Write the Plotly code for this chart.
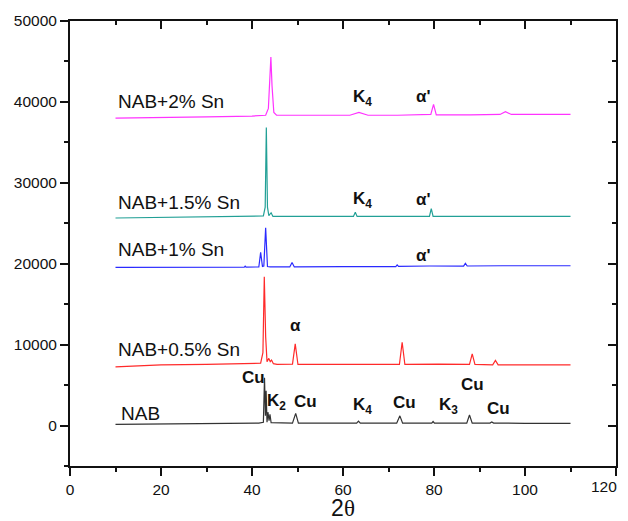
import plotly.graph_objects as go

# ---- Data ----
nab_x = [10, 20, 30, 38, 41.5, 42.5, 42.75, 42.95, 43.1, 43.3, 43.5, 43.75, 43.95, 44.2, 48.9, 49.6, 50.2,
         55, 63.0, 63.4, 63.8, 71.8, 72.5, 73.1, 79.5, 79.8, 80.1, 87.2, 87.8, 88.4, 92.3, 92.7, 93.1, 100, 110]
nab_y = [150, 180, 220, 280, 300, 400, 5900, 1200, 4300, 400, 1650, 600, 1400, 350, 300, 1500, 300,
         300, 300, 550, 300, 300, 1200, 300, 300, 500, 300, 300, 1300, 300, 300, 450, 300, 280, 280]

sn05_x = [10, 15, 20, 30, 38, 41.9, 42.4, 42.7, 43.0, 43.3, 43.7, 44.0, 44.3, 44.7, 45.5, 48.9, 49.5, 50.1,
          55, 65, 72.4, 73.0, 73.6, 81, 87.8, 88.4, 89.0, 92.9, 93.5, 94.1, 100, 110]
sn05_y = [7250, 7400, 7500, 7550, 7600, 7700, 9000, 18400, 11000, 7900, 8300, 7900, 8100, 7650, 7550, 7600, 10100, 7550,
          7550, 7600, 7550, 10300, 7550, 7600, 7550, 8850, 7550, 7500, 8050, 7500, 7500, 7500]

sn1_x = [10, 20, 30, 38.3, 38.5, 38.7, 41.5, 41.9, 42.3, 42.6, 43.0, 43.4, 44.0, 48.3, 48.8, 49.3,
         60, 71.6, 71.9, 72.2, 79, 86.5, 86.9, 87.3, 95, 110]
sn1_y = [19550, 19550, 19580, 19580, 19700, 19580, 19600, 21400, 19650, 19700, 24450, 19650, 19600, 19600, 20150, 19600,
         19650, 19650, 19850, 19680, 19720, 19700, 20050, 19720, 19750, 19750]

sn15_x = [10, 20, 30, 40, 42.5, 42.9, 43.15, 43.4, 43.7, 44.2, 44.6, 55, 62.3, 62.7, 63.1, 70,
          79.0, 79.4, 79.8, 90, 110]
sn15_y = [25650, 25700, 25750, 25800, 25900, 27000, 36850, 27000, 25950, 26300, 25850, 25850, 25850, 26350, 25850, 25850,
          25850, 26800, 25850, 25850, 25850]

sn2_x = [10, 20, 30, 40, 43.0, 43.6, 43.95, 44.15, 44.4, 44.8, 45.4, 55, 61.5, 63.5, 65.5, 72,
         79.3, 79.9, 80.5, 88, 94.5, 95.7, 97, 110]
sn2_y = [38000, 38050, 38150, 38250, 38350, 39200, 43500, 45550, 42000, 38700, 38350, 38350, 38350, 38700, 38350, 38350,
         38450, 39700, 38400, 38400, 38450, 38800, 38450, 38450]

series_names = ["NAB", "NAB+0.5% Sn", "NAB+1% Sn", "NAB+1.5% Sn", "NAB+2% Sn"]
series_colors = ["#333333", "#ff2a2a", "#2a2aff", "#22a096", "#ff33ff"]

# x tick values / labels (last label drawn separately so it is not clipped at the page edge)
x_tickvals = [0, 20, 40, 60, 80, 100, 120]
x_ticktext = ["0", "20", "40", "60", "80", "100", "120"]

# series label anchor points (x, y)
label_x = [10.8, 10, 10, 10, 10]
label_y = [1450, 9400, 21740, 27560, 40100]

# peak labels: (text, x, y)
peak_text = ["Cu", "K<sub>2</sub>", "Cu", "K<sub>4</sub>", "Cu", "K<sub>3</sub>", "Cu", "Cu",
             "α", "α'", "K<sub>4</sub>", "α'", "K<sub>4</sub>", "α'"]
peak_x = [40.4, 45.3, 51.7, 64.2, 73.5, 83.2, 88.4, 94.1,
          49.6, 77.6, 64.2, 77.6, 64.2, 77.6]
peak_y = [5980, 2970, 2970, 2390, 2880, 2390, 5070, 2060,
          12380, 21040, 27850, 27930, 40430, 40630]

xs = [nab_x, sn05_x, sn1_x, sn15_x, sn2_x]
ys = [nab_y, sn05_y, sn1_y, sn15_y, sn2_y]

fig = go.Figure()
for name, x, y, c in zip(series_names, xs, ys, series_colors):
    fig.add_trace(go.Scatter(x=x, y=y, mode="lines", name=name,
                             line=dict(color=c, width=1.2), showlegend=False))
# empty trace so the mirrored (inside-tick) top/right axes are drawn
fig.add_trace(go.Scatter(x=[], y=[], xaxis="x2", yaxis="y2", showlegend=False, hoverinfo="skip"))

axis_font = dict(family="Liberation Sans, Arial", size=15.5, color="#111")

annotations = []
for name, x, y in zip(series_names, label_x, label_y):
    annotations.append(dict(x=x, y=y, text=name, showarrow=False, xanchor="left", yanchor="middle",
                            font=dict(family="Liberation Sans, Arial", size=19, color="#111")))
for t, x, y in zip(peak_text, peak_x, peak_y):
    annotations.append(dict(x=x, y=y, text="<b>" + t + "</b>", showarrow=False, xanchor="center", yanchor="middle",
                            font=dict(family="Liberation Sans, Arial", size=17, color="#111")))
# last x tick label, right-aligned so it stays fully visible
annotations.append(dict(x=x_tickvals[-1], xref="x", y=0, yref="paper", text=x_ticktext[-1], showarrow=False,
                        xanchor="right", yanchor="top", xshift=3, yshift=-10, font=axis_font))

shown_ticktext = x_ticktext[:-1] + [""]

# the page body has an 8px margin, so the figure is offset by 8px
fig.update_layout(
    width=620, height=513,
    margin=dict(l=62, r=12, t=13, b=55),
    paper_bgcolor="white", plot_bgcolor="white",
    annotations=annotations,
    xaxis=dict(range=[0, 120], tickvals=x_tickvals, ticktext=shown_ticktext, ticks="outside", ticklen=8,
               tickwidth=1.5, tickcolor="#111", showline=True, linewidth=2, linecolor="#111", mirror=True,
               showgrid=False, zeroline=False, tickfont=axis_font, automargin=False,
               minor=dict(dtick=10, tick0=0, ticks="outside", ticklen=4, tickwidth=1.5, tickcolor="#111"),
               title=dict(text="2<span style='font-family:Liberation Serif'>θ</span>",
                          font=dict(family="Liberation Sans, Arial", size=23, color="#111"))),
    yaxis=dict(range=[-5000, 50000], dtick=10000, tick0=0, ticks="outside", ticklen=8, tickwidth=1.5,
               tickcolor="#111", showline=True, linewidth=2, linecolor="#111", mirror=True,
               showgrid=False, zeroline=False, tickfont=axis_font, tickformat="d", automargin=False,
               minor=dict(dtick=5000, tick0=0, ticks="outside", ticklen=4, tickwidth=1.5, tickcolor="#111")),
    xaxis2=dict(range=[0, 120], overlaying="x", side="top", dtick=20, tick0=0, ticks="inside", ticklen=8,
                tickwidth=1.5, tickcolor="#111", showticklabels=False, showgrid=False, zeroline=False,
                showline=False, automargin=False,
                minor=dict(dtick=10, tick0=0, ticks="inside", ticklen=4, tickwidth=1.5, tickcolor="#111")),
    yaxis2=dict(range=[-5000, 50000], overlaying="y", side="right", dtick=10000, tick0=0, ticks="inside",
                ticklen=8, tickwidth=1.5, tickcolor="#111", showticklabels=False, showgrid=False,
                zeroline=False, showline=False, automargin=False,
                minor=dict(dtick=5000, tick0=0, ticks="inside", ticklen=4, tickwidth=1.5, tickcolor="#111")),
)

fig.write_html("out.html")
